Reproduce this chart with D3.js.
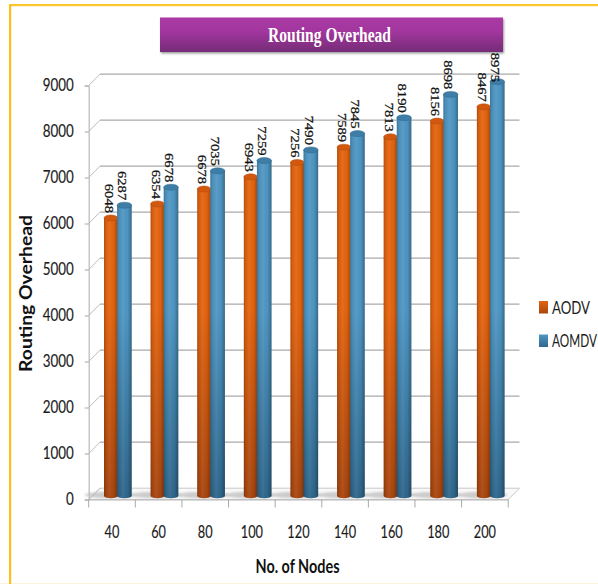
<!DOCTYPE html>
<html>
<head>
<meta charset="utf-8">
<script src="https://cdn.jsdelivr.net/npm/d3@7/dist/d3.min.js"></script>
<style>
html,body{margin:0;padding:0;background:#fff;overflow:hidden}
svg{display:block}
</style>
</head>
<body>
<svg id="chart" width="598" height="584"></svg>
<script>
// Routing overhead of AODV and AOMDV by network size
const nodeCounts = ["40","60","80","100","120","140","160","180","200"];
const aodv  = [6048,6354,6678,6943,7256,7589,7813,8156,8467];
const aomdv = [6287,6678,7035,7259,7490,7845,8190,8698,8975];
const seriesNames = ["AODV","AOMDV"];
const yTicks = [0,1000,2000,3000,4000,5000,6000,7000,8000,9000];
const titleText = "Routing Overhead";
const xTitle = "No. of Nodes";
const yTitle = "Routing Overhead";

const sans = "Lato, 'Noto Sans', sans-serif";
const serif = "'Liberation Serif', serif";
const palette = {
  AODV:  {top:"#e4640f", bottom:"#a8460f", cap:"#d2580e", capEdge:"#b34c10"},
  AOMDV: {top:"#4f97c4", bottom:"#2f678c", cap:"#3d7da6", capEdge:"#33698c"}
};

const svg = d3.select("#chart");
const defs = svg.append("defs");

// Depth of the 3D box: the back wall is shifted up and to the right of the front axes
const depthX = 11.3, depthY = 11.3;
const x = d3.scaleBand().domain(nodeCounts).range([88.7, 508.2]);
const y = d3.scaleLinear().domain([0, 9000]).range([499.5, 85.5]);
// Bars stand midway between the front edge and the back wall
const barY = d3.scaleLinear().domain([0, 9000]).range([496, 82.3]);
const bannerBottom = 52;

// Narrow the label glyphs so they keep the tall, compact look of the chart font
const fit = (sel, perChar) => sel
  .attr("textLength", function() { return this.textContent.length * perChar; })
  .attr("lengthAdjust", "spacingAndGlyphs");

// Page frame
svg.append("rect").attr("x",0).attr("y",583).attr("width",598).attr("height",1).attr("fill","#fdf3dc");
svg.append("rect").attr("x",9).attr("y",4).attr("width",589).attr("height",2.2).attr("fill","#fcc52c");
svg.append("rect").attr("x",9).attr("y",4).attr("width",2.2).attr("height",580).attr("fill","#fcc01a");

// Title banner
const bannerGrad = defs.append("linearGradient").attr("id","banner").attr("x1",0).attr("x2",0).attr("y1",0).attr("y2",1);
bannerGrad.append("stop").attr("offset",0).attr("stop-color","#aa3aa6");
bannerGrad.append("stop").attr("offset",0.4).attr("stop-color","#a2369e");
bannerGrad.append("stop").attr("offset",1).attr("stop-color","#762c78");
defs.append("filter").attr("id","soft").attr("x","-10%").attr("y","-20%").attr("width","120%").attr("height","140%")
  .append("feGaussianBlur").attr("stdDeviation",1.2);
svg.append("rect").attr("x",161).attr("y",19).attr("width",343).attr("height",34.5).attr("fill","#999").attr("filter","url(#soft)");
svg.append("rect").attr("x",160).attr("y",17.5).attr("width",343).attr("height",34.5).attr("fill","url(#banner)");
svg.append("text").attr("x",329.5).attr("y",42).attr("text-anchor","middle")
  .attr("font-family",serif).attr("font-weight","bold").attr("font-size",22)
  .attr("textLength",123).attr("lengthAdjust","spacingAndGlyphs")
  .attr("fill","#fff").text(titleText);

// Floor, back wall and gridlines
const plot = svg.append("g");
plot.append("path")
  .attr("d", `M${x.range()[0]},${y(0)} L${x.range()[0]+depthX},${y(0)-depthY} H${x.range()[1]+depthX} L${x.range()[1]},${y(0)} Z`)
  .attr("fill","#f9f9f9").attr("stroke","#c8c8c8").attr("stroke-width",1);
plot.selectAll("line.grid").data(yTicks.filter(d => d > 0)).join("line")
  .attr("x1",x.range()[0]+depthX).attr("x2",x.range()[1]+depthX)
  .attr("y1",d => y(d)-depthY).attr("y2",d => y(d)-depthY)
  .attr("stroke","#aaaaaa").attr("stroke-width",1.3);
plot.selectAll("line.side").data(yTicks).join("line")
  .attr("x1",x.range()[0]).attr("x2",x.range()[0]+depthX)
  .attr("y1",d => y(d)).attr("y2",d => y(d)-depthY)
  .attr("stroke","#bcbcbc").attr("stroke-width",1);

// Axes
const axisY = d3.axisLeft(y).tickValues(yTicks).tickSize(4).tickPadding(11).tickFormat(d3.format("d"));
const gy = svg.append("g").attr("transform",`translate(${x.range()[0]},0)`).call(axisY);
const axisX = d3.axisBottom(x).tickSize(0).tickPadding(26);
const gx = svg.append("g").attr("transform",`translate(0,${y(0)})`).call(axisX);
[gy,gx].forEach(g => {
  g.selectAll("text").attr("font-family",sans).attr("font-size",17).attr("fill","#1a1a1a")
    .attr("stroke","#1a1a1a").attr("stroke-width",0.15);
  g.selectAll(".tick line").attr("stroke","#a6a6a6");
  g.select(".domain").attr("stroke","#b8b8b8").attr("stroke-width",1.2);
});
fit(gy.selectAll("text"), 7.75);
fit(gx.selectAll("text"), 7.4);
// Category separators hang below the front edge of the floor
svg.append("g").selectAll("line").data(d3.range(nodeCounts.length+1)).join("line")
  .attr("x1",i => x.range()[0]+i*x.bandwidth()).attr("x2",i => x.range()[0]+i*x.bandwidth())
  .attr("y1",y(0)).attr("y2",y(0)+8).attr("stroke","#a8a8a8");

// Cylinder shading
seriesNames.forEach(name => {
  const c = palette[name];
  const g = defs.append("linearGradient").attr("id","body"+name).attr("gradientUnits","userSpaceOnUse")
    .attr("x1",0).attr("x2",0).attr("y1",barY(9000)).attr("y2",barY(0));
  g.append("stop").attr("offset",0).attr("stop-color",c.top);
  g.append("stop").attr("offset",0.55).attr("stop-color",c.top);
  g.append("stop").attr("offset",1).attr("stop-color",c.bottom);
});
const sheen = defs.append("linearGradient").attr("id","sheen");
[[0,"#000",0.24],[0.14,"#000",0.06],[0.42,"#fff",0.06],[0.72,"#000",0.02],[1,"#000",0.3]].forEach(s =>
  sheen.append("stop").attr("offset",s[0]).attr("stop-color",s[1]).attr("stop-opacity",s[2]));

// The second cylinder of each pair stands slightly further back, so its top sits a little higher
const series = [
  {name:"AODV", values:aodv, left:15.3, w:13.6, lift:0},
  {name:"AOMDV", values:aomdv, left:28.4, w:14.6, lift:1.8}
];

// Soft floor shadows behind each pair of bars
svg.append("g").selectAll("ellipse").data(nodeCounts).join("ellipse")
  .attr("cx",d => x(d)+21).attr("cy",barY(0)-1).attr("rx",25).attr("ry",3.2)
  .attr("fill","#bdbdbd").attr("filter","url(#soft)").attr("opacity",0.75);

series.forEach(s => {
  const c = palette[s.name];
  const top = d => barY(d) - s.lift;
  const g = svg.append("g").selectAll("g").data(s.values).join("g")
    .attr("transform",(d,i) => `translate(${x(nodeCounts[i])+s.left},0)`);
  const body = d => `M0,${top(d)} V${barY(0)} A${s.w/2},2.2 0 0 0 ${s.w},${barY(0)} V${top(d)} Z`;
  g.append("path").attr("d",body).attr("fill",`url(#body${s.name})`);
  g.append("path").attr("d",body).attr("fill","url(#sheen)");
  g.append("ellipse").attr("cx",s.w/2).attr("cy",top).attr("rx",s.w/2).attr("ry",3)
    .attr("fill",c.cap).attr("stroke",c.capEdge).attr("stroke-width",0.5);
});

// Value labels read top to bottom above each bar, and stay clear of the banner
series.forEach(s => {
  svg.append("g").selectAll("text").data(s.values).join("text")
    .attr("transform",(d,i) => {
      const end = Math.max(bannerBottom + 30, barY(d) - s.lift - 5);
      return `translate(${x(nodeCounts[i])+s.left+1},${end}) rotate(90)`;
    })
    .attr("text-anchor","end")
    .attr("font-family",serif).attr("font-size",11.5).attr("fill","#111")
    .attr("stroke","#111").attr("stroke-width",0.25)
    .text(d => d)
    .call(fit, 7.3);
});

// Axis titles
svg.append("text").attr("transform","translate(31.5,293.5) rotate(-90)").attr("text-anchor","middle")
  .attr("font-family",sans).attr("font-weight","bold").attr("font-size",16.5).attr("fill","#111")
  .attr("textLength",157).attr("lengthAdjust","spacingAndGlyphs").text(yTitle);
svg.append("text").attr("x",297.5).attr("y",573).attr("text-anchor","middle")
  .attr("font-family",sans).attr("font-weight","bold").attr("font-size",18).attr("fill","#111")
  .attr("textLength",84).attr("lengthAdjust","spacingAndGlyphs").text(xTitle);

// Legend
seriesNames.forEach(n => {
  const g = defs.append("linearGradient").attr("id","leg"+n).attr("x1",0).attr("x2",0).attr("y1",0).attr("y2",1);
  g.append("stop").attr("offset",0).attr("stop-color",palette[n].top);
  g.append("stop").attr("offset",1).attr("stop-color",palette[n].bottom);
});
const legend = svg.append("g").selectAll("g").data(seriesNames).join("g")
  .attr("transform",(d,i) => `translate(539,${301+i*33.5})`);
legend.append("rect").attr("width",9).attr("height",12.5).attr("fill",d => `url(#leg${d})`);
// Legend entries are squeezed horizontally so the longer name stays inside the page
legend.append("text")
  .attr("font-family",sans).attr("font-size",17).attr("fill","#1a1a1a")
  .text(d => d)
  .attr("transform",function(d) {
    const target = d.length === 4 ? 38 : 45;
    return `translate(13,12.5) scale(${target / this.getComputedTextLength()},1)`;
  });
</script>
</body>
</html>
